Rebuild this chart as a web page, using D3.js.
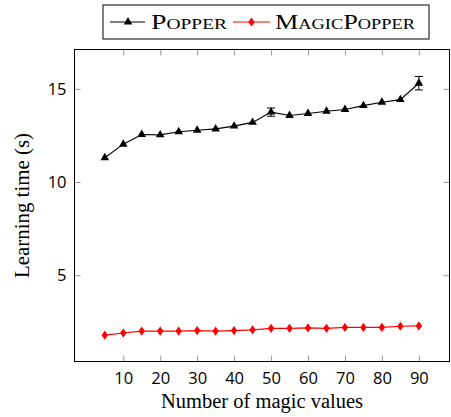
<!DOCTYPE html>
<html>
<head>
<meta charset="utf-8">
<script src="https://cdn.jsdelivr.net/npm/d3@7"></script>
<style>
  body { margin: 0; background: #fff; }
</style>
</head>
<body>
<div id="chart"></div>
<script>
// magic values on the x axis
const magicValues = [5, 10, 15, 20, 25, 30, 35, 40, 45, 50, 55, 60, 65, 70, 75, 80, 85, 90];
// learning time (s)
const popper = [11.3, 12.03, 12.55, 12.53, 12.7, 12.78, 12.85, 13.0, 13.2, 13.75, 13.57, 13.68, 13.8, 13.89, 14.1, 14.28, 14.42, 15.3];
const popperErr = [0.06, 0.06, 0.06, 0.06, 0.06, 0.06, 0.06, 0.06, 0.08, 0.22, 0.08, 0.1, 0.08, 0.08, 0.08, 0.08, 0.08, 0.36];
const magicPopper = [1.78, 1.9, 2.0, 2.0, 2.0, 2.03, 2.0, 2.03, 2.07, 2.15, 2.15, 2.17, 2.15, 2.2, 2.2, 2.2, 2.26, 2.28];
const xTicks = [10, 20, 30, 40, 50, 60, 70, 80, 90];
const yTicks = [5, 10, 15];
const seriesNames = ["Popper", "MagicPopper"];

const width = 451, height = 417;
const marginLeft = 74.5, marginRight = 1.5, marginTop = 49.5, marginBottom = 55.5;
const serif = "'Liberation Serif', 'DejaVu Serif', serif";
const sans = "'Open Sans', 'DejaVu Sans', sans-serif";

const x = d3.scaleLinear([-3.2, 98.3], [marginLeft, width - marginRight]);
const y = d3.scaleLinear([0.37, 17.11], [height - marginBottom, marginTop]);

const svg = d3.select("#chart").append("svg")
    .attr("width", width)
    .attr("height", height)
    .attr("viewBox", [0, 0, width, height]);

const tickLen = 6, tickColor = "#9a9a9a";

// ticks on all four sides, pointing inside
svg.append("g")
    .attr("transform", `translate(0,${height - marginBottom})`)
    .call(d3.axisBottom(x).tickValues(xTicks).tickSize(-tickLen).tickPadding(11))
    .call(g => g.select(".domain").remove())
    .call(g => g.selectAll(".tick line").attr("stroke", tickColor))
    .call(g => g.selectAll(".tick text")
        .attr("font-family", sans).attr("font-size", 16.5).attr("fill", "#000"));

svg.append("g")
    .attr("transform", `translate(0,${marginTop})`)
    .call(d3.axisTop(x).tickValues(xTicks).tickSize(-tickLen).tickFormat(""))
    .call(g => g.select(".domain").remove())
    .call(g => g.selectAll(".tick line").attr("stroke", tickColor));

svg.append("g")
    .attr("transform", `translate(${marginLeft},0)`)
    .call(d3.axisLeft(y).tickValues(yTicks).tickSize(-tickLen).tickPadding(8))
    .call(g => g.select(".domain").remove())
    .call(g => g.selectAll(".tick line").attr("stroke", tickColor))
    .call(g => g.selectAll(".tick text")
        .attr("font-family", sans).attr("font-size", 16.5).attr("fill", "#000"));

svg.append("g")
    .attr("transform", `translate(${width - marginRight},0)`)
    .call(d3.axisRight(y).tickValues(yTicks).tickSize(-tickLen).tickFormat(""))
    .call(g => g.select(".domain").remove())
    .call(g => g.selectAll(".tick line").attr("stroke", tickColor));

// frame
svg.append("rect")
    .attr("x", marginLeft)
    .attr("y", marginTop)
    .attr("width", width - marginRight - marginLeft)
    .attr("height", height - marginBottom - marginTop)
    .attr("fill", "none")
    .attr("stroke", "#000")
    .attr("stroke-width", 1);

const line = d3.line().x(d => x(d[0])).y(d => y(d[1]));
const tri = d3.symbol(d3.symbolTriangle, 32);
const diamond = "M0,-4.6L3.2,0L0,4.6L-3.2,0Z";

// MagicPopper series
const mp = magicValues.map((v, i) => [v, magicPopper[i]]);
svg.append("path")
    .attr("d", line(mp))
    .attr("fill", "none")
    .attr("stroke", "#ff0000")
    .attr("stroke-width", 1.2);
svg.append("g")
    .attr("fill", "#ff0000")
  .selectAll("path")
  .data(mp)
  .join("path")
    .attr("transform", d => `translate(${x(d[0])},${y(d[1])})`)
    .attr("d", diamond);

// Popper series
const pp = magicValues.map((v, i) => [v, popper[i], popperErr[i]]);
svg.append("path")
    .attr("d", line(pp))
    .attr("fill", "none")
    .attr("stroke", "#000")
    .attr("stroke-width", 1.1);

const err = svg.append("g")
    .attr("stroke", "#000")
    .attr("stroke-width", 1)
  .selectAll("g")
  .data(pp.filter(d => d[2] > 0.15))
  .join("g");
err.append("line")
    .attr("x1", d => x(d[0])).attr("x2", d => x(d[0]))
    .attr("y1", d => y(d[1] + d[2])).attr("y2", d => y(d[1] - d[2]));
err.append("line")
    .attr("x1", d => x(d[0]) - 4).attr("x2", d => x(d[0]) + 4)
    .attr("y1", d => y(d[1] + d[2])).attr("y2", d => y(d[1] + d[2]));
err.append("line")
    .attr("x1", d => x(d[0]) - 4).attr("x2", d => x(d[0]) + 4)
    .attr("y1", d => y(d[1] - d[2])).attr("y2", d => y(d[1] - d[2]));

svg.append("g")
    .attr("fill", "#000")
  .selectAll("path")
  .data(pp)
  .join("path")
    .attr("transform", d => `translate(${x(d[0])},${y(d[1])})`)
    .attr("d", tri);

// axis labels
svg.append("text")
    .attr("x", (marginLeft + width - marginRight) / 2)
    .attr("y", 408)
    .attr("text-anchor", "middle")
    .attr("font-family", serif)
    .attr("font-size", 20)
    .attr("textLength", 202).attr("lengthAdjust", "spacingAndGlyphs")
    .text("Number of magic values");

svg.append("text")
    .attr("transform", `translate(29,${(marginTop + height - marginBottom) / 2}) rotate(-90)`)
    .attr("text-anchor", "middle")
    .attr("font-family", serif)
    .attr("font-size", 20)
    .attr("textLength", 145).attr("lengthAdjust", "spacingAndGlyphs")
    .text("Learning time (s)");

// legend
const legend = svg.append("g");
legend.append("rect")
    .attr("x", 103).attr("y", 5)
    .attr("width", 326).attr("height", 34)
    .attr("fill", "#fff")
    .attr("stroke", "#000")
    .attr("stroke-width", 1);

legend.append("line")
    .attr("x1", 110).attr("x2", 145).attr("y1", 22).attr("y2", 22)
    .attr("stroke", "#000").attr("stroke-width", 1.1);
legend.append("path")
    .attr("transform", "translate(128,22)")
    .attr("d", tri);
legend.append("text")
    .attr("x", 151).attr("y", 29)
    .attr("font-family", serif).attr("font-size", 20)
    .attr("font-variant", "small-caps")
    .attr("textLength", 76).attr("lengthAdjust", "spacingAndGlyphs")
    .text(seriesNames[0]);

legend.append("line")
    .attr("x1", 233).attr("x2", 270).attr("y1", 22).attr("y2", 22)
    .attr("stroke", "#ff0000").attr("stroke-width", 1.2);
legend.append("path")
    .attr("transform", "translate(251.5,22)")
    .attr("fill", "#ff0000")
    .attr("d", diamond);
legend.append("text")
    .attr("x", 275).attr("y", 29)
    .attr("font-family", serif).attr("font-size", 20)
    .attr("font-variant", "small-caps")
    .attr("textLength", 140).attr("lengthAdjust", "spacingAndGlyphs")
    .text(seriesNames[1]);
</script>
</body>
</html>
